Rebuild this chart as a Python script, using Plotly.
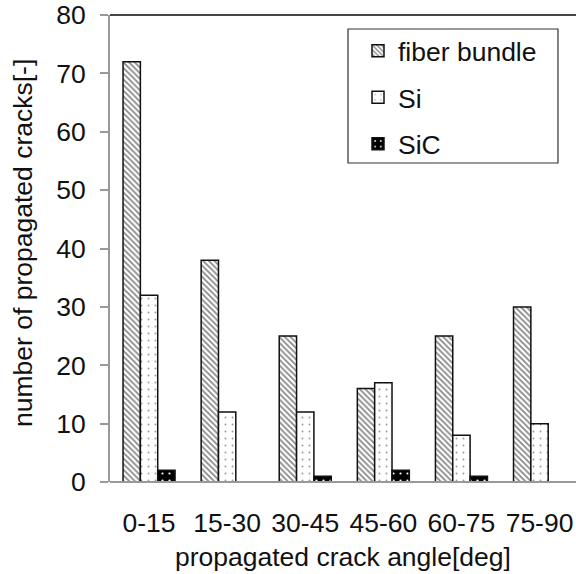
import plotly.graph_objects as go

categories = ["0-15", "15-30", "30-45", "45-60", "60-75", "75-90"]
fiber_bundle = [72, 38, 25, 16, 25, 30]
si = [32, 12, 12, 17, 8, 10]
sic = [2, 0, 1, 2, 1, 0]
y_ticks = [0, 10, 20, 30, 40, 50, 60, 70, 80]

FONT = "Liberation Sans, Arial, sans-serif"
FS = 26.5

fig = go.Figure()
fig.add_trace(go.Bar(
    x=categories, y=fiber_bundle, name="fiber bundle", legendgroup="a",
    marker=dict(color="white", line=dict(color="#111", width=1.5),
                pattern=dict(shape="\\", size=4, solidity=0.45,
                             fgcolor="#111", bgcolor="white", fillmode="overlay")),
))
fig.add_trace(go.Bar(
    x=categories, y=si, name="Si", legendgroup="b",
    marker=dict(color="white", line=dict(color="#111", width=1.5),
                pattern=dict(shape=".", size=7, solidity=0.06,
                             fgcolor="#333", bgcolor="white", fillmode="overlay")),
))
fig.add_trace(go.Bar(
    x=categories, y=sic, name="SiC", legendgroup="c",
    marker=dict(color="black", line=dict(color="#111", width=1.5),
                pattern=dict(shape=".", size=7, solidity=0.08,
                             fgcolor="white", bgcolor="black", fillmode="replace")),
))

fig.update_layout(
    width=576, height=574,
    margin=dict(l=110, r=0, t=15, b=92),
    paper_bgcolor="white", plot_bgcolor="white",
    font=dict(family=FONT, size=FS, color="#111"),
    barmode="group", bargap=0.334, bargroupgap=0,
    showlegend=True,
    legend=dict(x=(358 - 110) / 466, y=0.974, xanchor="left", yanchor="top",
                borderwidth=0, bgcolor="rgba(0,0,0,0)",
                font=dict(size=FS), tracegroupgap=9, itemwidth=30),
    xaxis=dict(
        range=[-0.5, 5.467], showgrid=False, zeroline=False, automargin=False,
        showline=False, ticks="", ticklabelstandoff=22,
    ),
    yaxis=dict(
        range=[0, 80], tickvals=y_ticks, showgrid=False, zeroline=False,
        automargin=False, ticklabeloverflow="allow",
        showline=True, linecolor="#999", linewidth=2,
        ticks="outside", ticklen=8, tickcolor="#999", tickwidth=1.5,
        ticklabelstandoff=9,
    ),
    annotations=[
        dict(text="propagated crack angle[deg]", xref="paper", yref="paper",
             x=0.5, y=(482 - 557) / 467, xanchor="center", yanchor="middle",
             showarrow=False, font=dict(size=FS)),
        dict(text="number of propagated cracks[-]", xref="paper", yref="paper",
             x=(23 - 110) / 466, y=(482 - 243) / 467, xanchor="center",
             yanchor="middle", textangle=-90, showarrow=False,
             font=dict(size=FS)),
    ],
    shapes=[
        dict(type="line", xref="paper", yref="paper", x0=0, x1=1.05, y0=1, y1=1,
             line=dict(color="#444", width=2), layer="above"),
        dict(type="line", xref="paper", yref="paper", x0=0, x1=1.05, y0=0, y1=0,
             line=dict(color="#999", width=2), layer="above"),
        dict(type="rect", xref="paper", yref="paper",
             x0=(348 - 110) / 466, x1=(558 - 110) / 466,
             y0=(482 - 163) / 467, y1=(482 - 29) / 467,
             line=dict(color="#333", width=1.2), fillcolor="white",
             layer="above"),
    ],
)

fig.write_html(
    "out.html",
    config={"displayModeBar": False},
    post_script="document.body.style.margin='0';document.body.style.overflow='hidden';",
)
